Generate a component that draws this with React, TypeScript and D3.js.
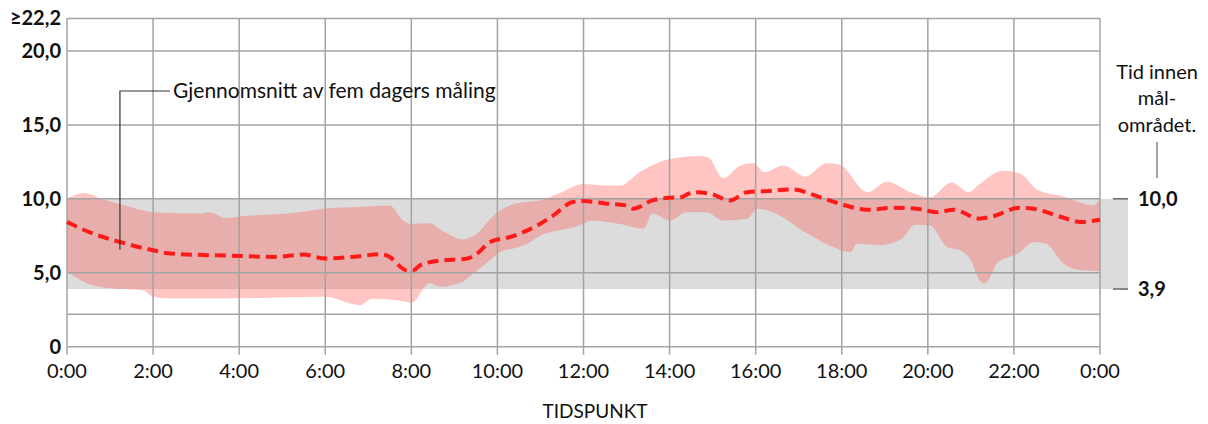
import * as d3 from "d3";

// hours (0–24) → glucose value
const upperBand: [number, number][] = [
  [0, 10.0], [0.4, 10.4], [0.8, 10.0], [1.4, 9.5], [2, 9.1], [3.1, 9.0], [3.3, 9.1],
  [3.7, 8.7], [4, 8.8], [5.4, 9.1], [6, 9.35], [6.8, 9.45], [7.5, 9.55], [7.8, 8.55],
  [8, 8.3], [8.4, 8.35], [8.8, 7.7], [9.2, 7.25], [9.45, 7.5], [10, 9.1], [10.45, 9.7],
  [11, 9.9], [11.45, 10.4], [12, 11.0], [12.55, 10.9], [12.85, 10.9], [13.3, 11.8],
  [14, 12.7], [14.7, 12.9], [14.9, 12.8], [15.25, 11.4], [15.65, 12.25], [15.95, 12.4],
  [16.2, 11.8], [16.65, 12.25], [17.15, 11.5], [17.65, 12.4], [17.95, 12.3], [18.6, 10.45],
  [19.05, 11.15], [19.6, 10.45], [20.05, 10.1], [20.55, 11.1], [20.95, 10.45], [21.2, 11.0],
  [21.75, 11.9], [22.15, 11.7], [22.55, 10.6], [23.1, 10.2], [23.85, 9.55], [24, 10.0],
];

const lowerBand: [number, number][] = [
  [0, 5.05], [0.6, 4.15], [1.2, 3.9], [1.75, 3.82], [2, 3.4], [2.3, 3.28], [4, 3.28],
  [6, 3.37], [6.8, 2.8], [7.1, 3.25], [7.9, 3.03], [8, 2.95], [8.43, 4.3], [8.67, 4.05],
  [9.13, 4.3], [9.45, 4.97], [9.83, 5.85], [10.06, 6.4], [10.5, 6.75], [10.7, 6.97],
  [11, 7.53], [11.45, 7.87], [11.9, 8.2], [12.2, 8.54], [12.55, 8.43], [12.85, 8.3],
  [13.4, 7.98], [13.6, 9.0], [14, 8.54], [14.4, 9.1], [14.85, 9.1], [15.25, 8.54],
  [15.8, 8.66], [16.05, 9.33], [16.55, 8.88], [17.2, 7.65], [17.9, 6.63], [18.2, 6.4],
  [18.35, 6.97], [18.9, 6.86], [19.4, 7.31], [19.7, 8.25], [20.05, 8.2], [20.45, 6.75],
  [20.75, 6.52], [21, 5.85], [21.2, 4.5], [21.33, 4.27], [21.45, 4.72], [21.6, 5.62],
  [21.85, 6.03], [22.1, 6.3], [22.45, 7.08], [22.75, 6.97], [23.15, 5.62], [23.55, 5.17],
  [24, 5.12],
];

const meanLine: [number, number][] = [
  [0, 8.43], [0.6, 7.65], [1.23, 7.08], [2, 6.52], [2.4, 6.3], [4, 6.14], [4.8, 6.07],
  [5.5, 6.23], [6, 5.96], [6.8, 6.12], [7.27, 6.25], [7.43, 6.18], [7.9, 5.17], [8.05, 5.17],
  [8.2, 5.5], [8.6, 5.8], [9.3, 5.96], [9.53, 6.3], [9.83, 7.08], [10.3, 7.42], [10.6, 7.75],
  [11, 8.32], [11.3, 8.88], [11.75, 9.78], [12, 9.85], [12.55, 9.67], [13, 9.55],
  [13.15, 9.33], [13.6, 9.89], [14, 10.07], [14.25, 10.1], [14.55, 10.45], [14.95, 10.34],
  [15.4, 9.89], [15.8, 10.45], [16.25, 10.52], [16.85, 10.63], [17.5, 10.1], [17.95, 9.67],
  [18.6, 9.26], [19.2, 9.4], [19.75, 9.33], [20.2, 9.1], [20.6, 9.26], [21.2, 8.66],
  [21.45, 8.77], [22.15, 9.4], [22.45, 9.33], [23.1, 8.77], [23.55, 8.43], [24, 8.59],
];

const hourTicks = [0, 2, 4, 6, 8, 10, 12, 14, 16, 18, 20, 22, 24];
const hourLabels = ["0:00", "2:00", "4:00", "6:00", "8:00", "10:00", "12:00", "14:00", "16:00", "18:00", "20:00", "22:00", "0:00"];
const yTicks = [0, 5, 10, 15, 20, 22.2];
const yLabels = ["0", "5,0", "10,0", "15,0", "20,0", "≥22,2"];
const gridValues = [0, 2.2, 5, 10, 15, 20, 22.2];
const targetRange = [3.9, 10.0];
const targetLabels = ["3,9", "10,0"];

const W = 1208;
const H = 424;
const FONT = "Lato, 'Open Sans', sans-serif";

export default function App() {
  const x = d3.scaleLinear().domain([0, 24]).range([67, 1100]);
  const y = d3.scaleLinear().domain([0, 22.2]).range([346.7, 18.4]);

  const line = d3
    .line<[number, number]>()
    .x((d) => x(d[0]))
    .y((d) => y(d[1]))
    .curve(d3.curveMonotoneX);

  const upperPath = line(upperBand) ?? "";
  const lowerPath = line([...lowerBand].reverse()) ?? "";
  const bandPath = upperPath + "L" + lowerPath.slice(1) + "Z";

  const x0 = x(0);
  const x1 = x(24);

  return (
    <svg
      width={W}
      height={H}
      style={{ position: "absolute", left: 0, top: 0, background: "#fff" }}
      fontFamily={FONT}
    >
      {/* target range */}
      <rect
        x={x0}
        y={y(targetRange[1])}
        width={1128 - x0}
        height={y(targetRange[0]) - y(targetRange[1])}
        fill="#dcdcdc"
      />

      {/* band of the five days */}
      <path d={bandPath} fill="rgb(255,90,80)" fillOpacity={0.35} />

      {/* grid */}
      {gridValues.map((v) => (
        <line key={"h" + v} x1={x0} x2={x1} y1={y(v)} y2={y(v)} stroke="#a3a3a3" strokeWidth={1.5} />
      ))}
      {hourTicks.map((h) => (
        <line key={"v" + h} x1={x(h)} x2={x(h)} y1={y(22.2)} y2={y(0) + 8} stroke="#a3a3a3" strokeWidth={1.5} />
      ))}

      {/* mean */}
      <path
        d={line(meanLine) ?? ""}
        fill="none"
        stroke="#ff1a1a"
        strokeWidth={4}
        strokeDasharray="11 6"
      />

      {/* y labels */}
      {yTicks.map((v, i) => (
        <text
          key={"y" + v}
          x={61}
          y={y(v)}
          dy="0.35em"
          textAnchor="end"
          fontSize={20}
          fontWeight={700}
          fill="#111"
        >
          {yLabels[i]}
        </text>
      ))}

      {/* x labels */}
      {hourTicks.map((h, i) => (
        <text key={"x" + i} x={x(h)} y={371} dy="0.35em" textAnchor="middle" fontSize={20} fill="#111">
          {hourLabels[i]}
        </text>
      ))}
      <text x={595} y={411} dy="0.35em" textAnchor="middle" fontSize={19} fill="#111">
        TIDSPUNKT
      </text>

      {/* annotation */}
      <path d={`M${x(1.23)},${y(6.55)}V91H170`} fill="none" stroke="#333" strokeWidth={1.2} />
      <text x={173} y={91} dy="0.35em" fontSize={21} fill="#111">
        Gjennomsnitt av fem dagers måling
      </text>

      {/* right side: target range */}
      {targetRange.map((v, i) => (
        <g key={"t" + v}>
          <line x1={1113} x2={1128} y1={y(v)} y2={y(v)} stroke="#666" strokeWidth={1.5} />
          <text x={1138} y={y(v)} dy="0.35em" fontSize={20} fontWeight={700} fill="#111">
            {targetLabels[i]}
          </text>
        </g>
      ))}
      <text textAnchor="middle" fontSize={20} fill="#111">
        <tspan x={1157} y={79}>Tid innen</tspan>
        <tspan x={1157} y={105}>mål-</tspan>
        <tspan x={1157} y={132}>området.</tspan>
      </text>
      <line x1={1157} x2={1157} y1={142} y2={178} stroke="#666" strokeWidth={1.2} />
    </svg>
  );
}
